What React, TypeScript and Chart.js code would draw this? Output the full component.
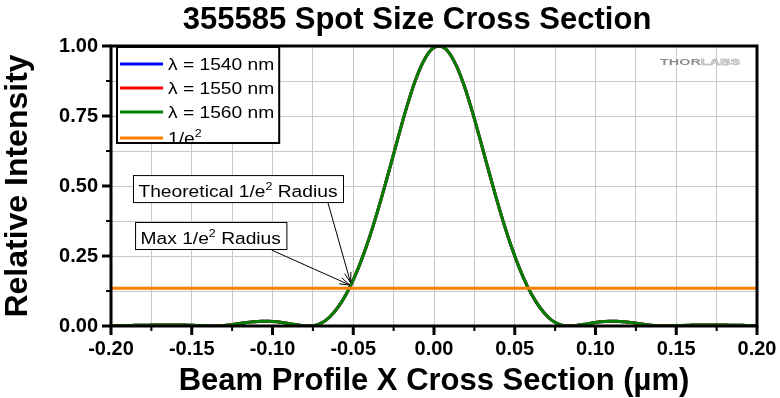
import React, { useEffect, useRef } from 'react';
import { Chart, registerables } from 'chart.js';

Chart.register(...registerables);

const FONT = '"Liberation Sans", Arial, Helvetica, sans-serif';

// ---------- data ----------
const TITLE = '355585 Spot Size Cross Section';
const X_TITLE = 'Beam Profile X Cross Section (µm)';
const Y_TITLE = 'Relative Intensity';

const X_MIN = -0.2;
const X_MAX = 0.2;
const X_STEP = 0.025;
const X_LABEL_STEP = 0.05;
const Y_MIN = 0;
const Y_MAX = 1;
const Y_STEP = 0.125;
const Y_LABEL_STEP = 0.25;

const positionUm = [
  -0.200, -0.197, -0.192, -0.187, -0.182, -0.177, -0.172, -0.167, -0.162, -0.157,
  -0.152, -0.147, -0.142, -0.137, -0.132, -0.127, -0.122, -0.117, -0.112, -0.107,
  -0.102, -0.097, -0.092, -0.087, -0.082, -0.077, -0.072, -0.067, -0.062, -0.057,
  -0.052, -0.047, -0.042, -0.037, -0.032, -0.027, -0.022, -0.017, -0.012, -0.007,
  -0.002, 0.003, 0.008, 0.013, 0.018, 0.023, 0.028, 0.033, 0.038, 0.043,
  0.048, 0.053, 0.058, 0.063, 0.068, 0.073, 0.078, 0.083, 0.088, 0.093,
  0.098, 0.103, 0.108, 0.113, 0.118, 0.123, 0.128, 0.133, 0.138, 0.143,
  0.148, 0.153, 0.158, 0.163, 0.168, 0.173, 0.178, 0.183, 0.188, 0.193,
  0.198, 0.200,
];

const intensity1560 = [
  0.000, 0.001, 0.001, 0.002, 0.003, 0.003, 0.004, 0.004, 0.004, 0.004,
  0.003, 0.002, 0.001, 0.000, 0.001, 0.004, 0.008, 0.012, 0.015, 0.017,
  0.017, 0.015, 0.011, 0.006, 0.002, 0.000, 0.005, 0.020, 0.048, 0.088,
  0.140, 0.205, 0.282, 0.370, 0.468, 0.572, 0.678, 0.780, 0.870, 0.940,
  0.985, 1.000, 0.985, 0.940, 0.870, 0.780, 0.678, 0.572, 0.468, 0.370,
  0.282, 0.205, 0.140, 0.088, 0.048, 0.020, 0.005, 0.000, 0.002, 0.006,
  0.011, 0.015, 0.017, 0.017, 0.015, 0.012, 0.008, 0.004, 0.001, 0.000,
  0.001, 0.002, 0.003, 0.004, 0.004, 0.004, 0.004, 0.003, 0.003, 0.002,
  0.001, 0.001,
];
// the three wavelengths overlap completely at this scale
const intensity1550 = [...intensity1560];
const intensity1540 = [...intensity1560];

const inverseE2Level = 0.135;

const seriesLabels = ['λ = 1540 nm', 'λ = 1550 nm', 'λ = 1560 nm', '1/e²'];
const seriesColors = ['#0000FF', '#FF0000', '#008000', '#FF8000'];

type Part = { text: string; sup?: boolean };
const legendParts: Part[][] = [
  [{ text: 'λ = 1540 nm' }],
  [{ text: 'λ = 1550 nm' }],
  [{ text: 'λ = 1560 nm' }],
  [{ text: '1/e' }, { text: '2', sup: true }],
];

// annotation anchors in data units
const annotations = [
  {
    parts: [{ text: 'Theoretical 1/e' }, { text: '2', sup: true }, { text: ' Radius' }] as Part[],
    boxX: -0.1864, boxY: 0.539, fromX: -0.0656, fromY: 0.439, toX: -0.0516, toY: 0.154,
  },
  {
    parts: [{ text: 'Max 1/e' }, { text: '2', sup: true }, { text: ' Radius' }] as Part[],
    boxX: -0.1851, boxY: 0.3714, fromX: -0.1005, fromY: 0.271, toX: -0.052, toY: 0.146,
  },
];

// ---------- helpers ----------
const isMultiple = (v: number, step: number) => Math.abs(v / step - Math.round(v / step)) < 1e-6;
const STRETCH = 1.2;

function richWidth(ctx: CanvasRenderingContext2D, parts: Part[], size: number, sx = 1, weight = '') {
  let w = 0;
  for (const p of parts) {
    const s = p.sup ? size * 0.65 : size;
    ctx.font = `${weight} ${s}px ${FONT}`;
    w += ctx.measureText(p.text).width;
  }
  return w * sx;
}

function drawRich(ctx: CanvasRenderingContext2D, parts: Part[], x: number, y: number, size: number, sx = 1, weight = '') {
  ctx.save();
  ctx.translate(x, y);
  ctx.scale(sx, 1);
  let cx = 0;
  ctx.textBaseline = 'alphabetic';
  ctx.textAlign = 'left';
  for (const p of parts) {
    const s = p.sup ? size * 0.65 : size;
    ctx.font = `${weight} ${s}px ${FONT}`;
    ctx.fillText(p.text, cx, p.sup ? -size * 0.42 : 0);
    cx += ctx.measureText(p.text).width;
  }
  ctx.restore();
}

const decorPlugin = {
  id: 'decor',
  afterDatasetsDraw(chart: any) {
    const { ctx, chartArea: ca, scales } = chart;
    const xs = scales.x;
    const ys = scales.y;
    ctx.save();

    // legend box
    const legendSize = 16;
    const lx = ca.left + 6;
    const ly = ca.top + 1;
    let maxW = 0;
    legendParts.forEach((p) => { maxW = Math.max(maxW, richWidth(ctx, p, legendSize, STRETCH)); });
    const lw = 51 + maxW + 5;
    const lh = 96;
    ctx.fillStyle = '#FFFFFF';
    ctx.fillRect(lx, ly, lw, lh);
    ctx.strokeStyle = '#000000';
    ctx.lineWidth = 2;
    ctx.strokeRect(lx, ly, lw, lh);
    const rowY = [18, 42, 66, 92];
    chart.data.datasets.forEach((ds: any, i: number) => {
      const yy = ca.top + rowY[i];
      ctx.strokeStyle = ds.borderColor;
      ctx.lineWidth = 3;
      ctx.beginPath();
      ctx.moveTo(lx + 3, yy);
      ctx.lineTo(lx + 46, yy);
      ctx.stroke();
      ctx.fillStyle = '#000000';
      drawRich(ctx, legendParts[i], lx + 51, yy + 5.5, legendSize, STRETCH);
    });

    // annotations
    annotations.forEach((a) => {
      const size = 16;
      const bx = xs.getPixelForValue(a.boxX);
      const by = ys.getPixelForValue(a.boxY);
      const tw = richWidth(ctx, a.parts, size, STRETCH);
      const bw = tw + 11;
      const bh = 27;
      const fx = xs.getPixelForValue(a.fromX);
      const fy = ys.getPixelForValue(a.fromY);
      const tx = xs.getPixelForValue(a.toX);
      const ty = ys.getPixelForValue(a.toY);
      // arrow
      ctx.strokeStyle = '#000000';
      ctx.lineWidth = 1;
      ctx.beginPath();
      ctx.moveTo(fx, fy);
      ctx.lineTo(tx, ty);
      ctx.stroke();
      const ang = Math.atan2(ty - fy, tx - fx);
      const hl = 11;
      ctx.beginPath();
      ctx.moveTo(tx - hl * Math.cos(ang - 0.3), ty - hl * Math.sin(ang - 0.3));
      ctx.lineTo(tx, ty);
      ctx.lineTo(tx - hl * Math.cos(ang + 0.3), ty - hl * Math.sin(ang + 0.3));
      ctx.stroke();
      // box
      ctx.fillStyle = '#FFFFFF';
      ctx.fillRect(bx, by, bw, bh);
      ctx.strokeRect(bx + 0.5, by + 0.5, bw, bh);
      ctx.fillStyle = '#000000';
      drawRich(ctx, a.parts, bx + 5.5, by + 21.5, size, STRETCH);
    });

    // logo
    ctx.save();
    ctx.translate(ca.right - 97, ca.top + 18.5);
    ctx.scale(1.6, 1);
    ctx.font = `bold 9px ${FONT}`;
    ctx.textBaseline = 'alphabetic';
    ctx.textAlign = 'left';
    ctx.fillStyle = '#8E8E8E';
    ctx.fillText('THOR', 0, 0);
    const tw = ctx.measureText('THOR').width;
    ctx.fillStyle = '#E6E6E6';
    ctx.fillText('LABS', tw, 0);
    ctx.strokeStyle = '#A8A8A8';
    ctx.lineWidth = 0.5;
    ctx.strokeText('LABS', tw, 0);
    ctx.restore();

    // frame
    ctx.strokeStyle = '#000000';
    ctx.lineWidth = 3;
    ctx.strokeRect(ca.left, ca.top, ca.right - ca.left, ca.bottom - ca.top);

    // tick marks (major / minor)
    ctx.lineCap = 'butt';
    xs.ticks.forEach((t: any) => {
      const major = isMultiple(t.value, X_LABEL_STEP);
      const px = xs.getPixelForValue(t.value);
      ctx.lineWidth = major ? 3 : 2;
      ctx.beginPath();
      ctx.moveTo(px, ca.bottom);
      ctx.lineTo(px, ca.bottom + (major ? 9 : 5));
      ctx.stroke();
    });
    ys.ticks.forEach((t: any) => {
      const major = isMultiple(t.value, Y_LABEL_STEP);
      const py = ys.getPixelForValue(t.value);
      ctx.lineWidth = major ? 3 : 2;
      ctx.beginPath();
      ctx.moveTo(ca.left, py);
      ctx.lineTo(ca.left - (major ? 9 : 5), py);
      ctx.stroke();
    });

    // chart title
    ctx.fillStyle = '#000000';
    ctx.font = `bold 31px ${FONT}`;
    ctx.textAlign = 'center';
    ctx.textBaseline = 'alphabetic';
    ctx.fillText(TITLE, (ca.left + ca.right) / 2 - 17, 29);

    ctx.restore();
  },
};

export default function App() {
  const canvasRef = useRef<HTMLCanvasElement | null>(null);

  useEffect(() => {
    if (!canvasRef.current) return;
    const toPts = (ys: number[]) => positionUm.map((x, i) => ({ x, y: ys[i] }));
    const series = [intensity1540, intensity1550, intensity1560];
    const datasets: any[] = series.map((s, i) => ({
      label: seriesLabels[i],
      data: toPts(s),
      borderColor: seriesColors[i],
      backgroundColor: seriesColors[i],
      borderWidth: 3,
      pointRadius: 0,
      cubicInterpolationMode: 'monotone',
      fill: false,
      order: 3 - i,
    }));
    datasets.push({
      label: seriesLabels[3],
      data: [
        { x: X_MIN, y: inverseE2Level },
        { x: X_MAX, y: inverseE2Level },
      ],
      borderColor: seriesColors[3],
      backgroundColor: seriesColors[3],
      borderWidth: 3,
      pointRadius: 0,
      fill: false,
      order: 0,
    });

    const tickFont = { family: FONT, size: 20, weight: 'bold' as const };
    const chart = new Chart(canvasRef.current, {
      type: 'line',
      data: { datasets },
      options: {
        responsive: false,
        animation: false,
        devicePixelRatio: 1,
        layout: { padding: { left: 0, top: 46, right: 23, bottom: 0 } },
        plugins: {
          legend: { display: false },
          tooltip: { enabled: false },
          title: { display: false },
        },
        scales: {
          x: {
            type: 'linear',
            min: X_MIN,
            max: X_MAX,
            afterFit: (s: any) => { s.height = 72; },
            ticks: {
              stepSize: X_STEP,
              autoSkip: false,
              maxRotation: 0,
              minRotation: 0,
              padding: 3,
              color: '#000000',
              font: tickFont,
              callback: (v: any) => (isMultiple(Number(v), X_LABEL_STEP) ? Number(v).toFixed(2) : ''),
            },
            grid: { color: '#C8C8C8', lineWidth: 1, tickLength: 8, tickColor: 'rgba(0,0,0,0)' },
            border: { display: false },
            title: {
              display: true,
              text: X_TITLE,
              color: '#000000',
              font: { family: FONT, size: 31, weight: 'bold', lineHeight: 1 },
              padding: { top: 0, bottom: 1 },
            },
          },
          y: {
            type: 'linear',
            min: Y_MIN,
            max: Y_MAX,
            afterFit: (s: any) => { s.width = 111; },
            ticks: {
              stepSize: Y_STEP,
              autoSkip: false,
              padding: 5,
              color: '#000000',
              font: tickFont,
              callback: (v: any) => (isMultiple(Number(v), Y_LABEL_STEP) ? Number(v).toFixed(2) : ''),
            },
            grid: { color: '#C8C8C8', lineWidth: 1, tickLength: 8, tickColor: 'rgba(0,0,0,0)' },
            border: { display: false },
            title: {
              display: true,
              text: Y_TITLE,
              color: '#000000',
              font: { family: FONT, size: 32, weight: 'bold', lineHeight: 1 },
              padding: { top: 2, bottom: 0 },
            },
          },
        },
      },
      plugins: [decorPlugin],
    });
    return () => chart.destroy();
  }, []);

  return (
    <div style={{ position: 'absolute', left: 0, top: 0, width: 780, height: 398, background: '#FFFFFF' }}>
      <canvas ref={canvasRef} width={780} height={398} style={{ display: 'block' }} />
    </div>
  );
}
